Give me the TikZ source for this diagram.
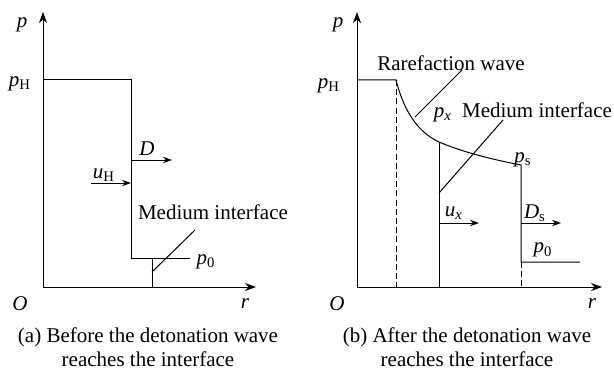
\documentclass[tikz,border=0pt]{standalone}
\usepackage{fontspec}
\setmainfont{Liberation Serif}
\usetikzlibrary{arrows.meta,positioning}
\newcommand{\iv}[1]{\textit{#1}}

\begin{document}
\begin{tikzpicture}[x=0.5pt,y=-0.5pt,line width=0.5pt,
    font=\fontsize{10.5}{12}\selectfont,
    axis/.style={-{Stealth[length=5.5pt,width=4pt]}},
    flow/.style={-{Stealth[length=4.5pt,width=3.2pt]}},
    guide/.style={dash pattern=on 3pt off 1.6pt},
    lbl/.style={inner sep=0pt}]
  \useasboundingbox (0,0) rectangle (614,369);
  % (a) before the wave reaches the interface
  \coordinate (ao) at (43,287);
  \coordinate (ap) at (43,12);
  \coordinate (ar) at (256,287);
  \coordinate (ah0) at (43,80);
  \coordinate (ah1) at (131,80);
  \coordinate (afront) at (131,258);
  \coordinate (alow) at (190,258);
  \coordinate (ai0) at (152,258);
  \coordinate (ai1) at (152,287);
  \coordinate (alead0) at (152,272);
  \coordinate (alead1) at (195,230);
  \coordinate (aD0) at (131,160);
  \coordinate (aD1) at (172,160);
  \coordinate (au0) at (91,183);
  \coordinate (au1) at (131,183);
  \draw[axis] (ao) -- (ap);
  \draw[axis] (ao) -- (ar);
  \draw (ah0) -- (ah1) -- (afront) -- (alow);
  \draw (ai0) -- (ai1);
  \draw (alead0) -- (alead1);
  \draw[flow] (aD0) -- (aD1);
  \draw[flow] (au0) -- (au1);
  \node[lbl] (ap-l) at (22,25) {\iv{p}};
  \node[lbl] (ah-l) at (20,84) {\iv{p}\textsubscript{H}};
  \node[lbl] (ao-l) at (20,304) {\iv{O}};
  \node[lbl] (ar-l) at (245,304) {\iv{r}};
  \node[lbl] (aD-l) at (147,149) {\iv{D}};
  \node[lbl] (au-l) at (104,175) {\iv{u}\textsubscript{H}};
  \node[lbl] (ai-l) at (213,212) {Medium interface};
  \node[lbl] (a0-l) at (206,262) {\iv{p}\textsubscript{0}};
  \node[lbl,align=center] (acap) at (148,347)
    {(a) Before the detonation wave\\reaches the interface};
  % (b) after the wave reaches the interface
  \coordinate (bo) at (357,287);
  \coordinate (bp) at (357,12);
  \coordinate (br) at (602,287);
  \coordinate (bh0) at (357,80);
  \coordinate (bh1) at (396,80);
  \coordinate (bx) at (439,142);
  \coordinate (bs) at (521,165);
  \coordinate (bsl) at (521,262);
  \coordinate (blow) at (580,262);
  \coordinate (bxa) at (439,287);
  \coordinate (bha) at (396,287);
  \coordinate (bsa) at (521,287);
  \coordinate (brw0) at (415,117);
  \coordinate (brw1) at (462,70);
  \coordinate (bmi0) at (439,193);
  \coordinate (bmi1) at (503,120);
  \coordinate (bu0) at (439,223);
  \coordinate (bu1) at (479,223);
  \coordinate (bD0) at (521,223);
  \coordinate (bD1) at (561,223);
  \draw[axis] (bo) -- (bp);
  \draw[axis] (bo) -- (br);
  \draw (bh0) -- (bh1)
    .. controls (405,115) and (420,133) .. (bx)
    .. controls (465,153) and (495,160) .. (bs) -- (bsl) -- (blow);
  \draw[guide] (bh1) -- (bha);
  \draw[guide] (bsl) -- (bsa);
  \draw (bx) -- (bxa);
  \draw (brw0) -- (brw1);
  \draw (bmi0) -- (bmi1);
  \draw[flow] (bu0) -- (bu1);
  \draw[flow] (bD0) -- (bD1);
  \node[lbl] (bp-l) at (338,25) {\iv{p}};
  \node[lbl] (bh-l) at (329,86) {\iv{p}\textsubscript{H}};
  \node[lbl] (bo-l) at (337,304) {\iv{O}};
  \node[lbl] (br-l) at (592,304) {\iv{r}};
  \node[lbl] (brw-l) at (451,63) {Rarefaction wave};
  \node[lbl] (bmi-l) at (537,110) {Medium interface};
  \node[lbl] (bx-l) at (443,115) {\iv{p}\textsubscript{\iv{x}}};
  \node[lbl] (bs-l) at (523,160) {\iv{p}\textsubscript{s}};
  \node[lbl] (bu-l) at (454,213) {\iv{u}\textsubscript{\iv{x}}};
  \node[lbl] (bD-l) at (535,213) {\iv{D}\textsubscript{s}};
  \node[lbl] (b0-l) at (543,250) {\iv{p}\textsubscript{0}};
  \node[lbl,align=center] (bcap) at (467,347)
    {(b) After the detonation wave\\reaches the interface};
\end{tikzpicture}
\end{document}
